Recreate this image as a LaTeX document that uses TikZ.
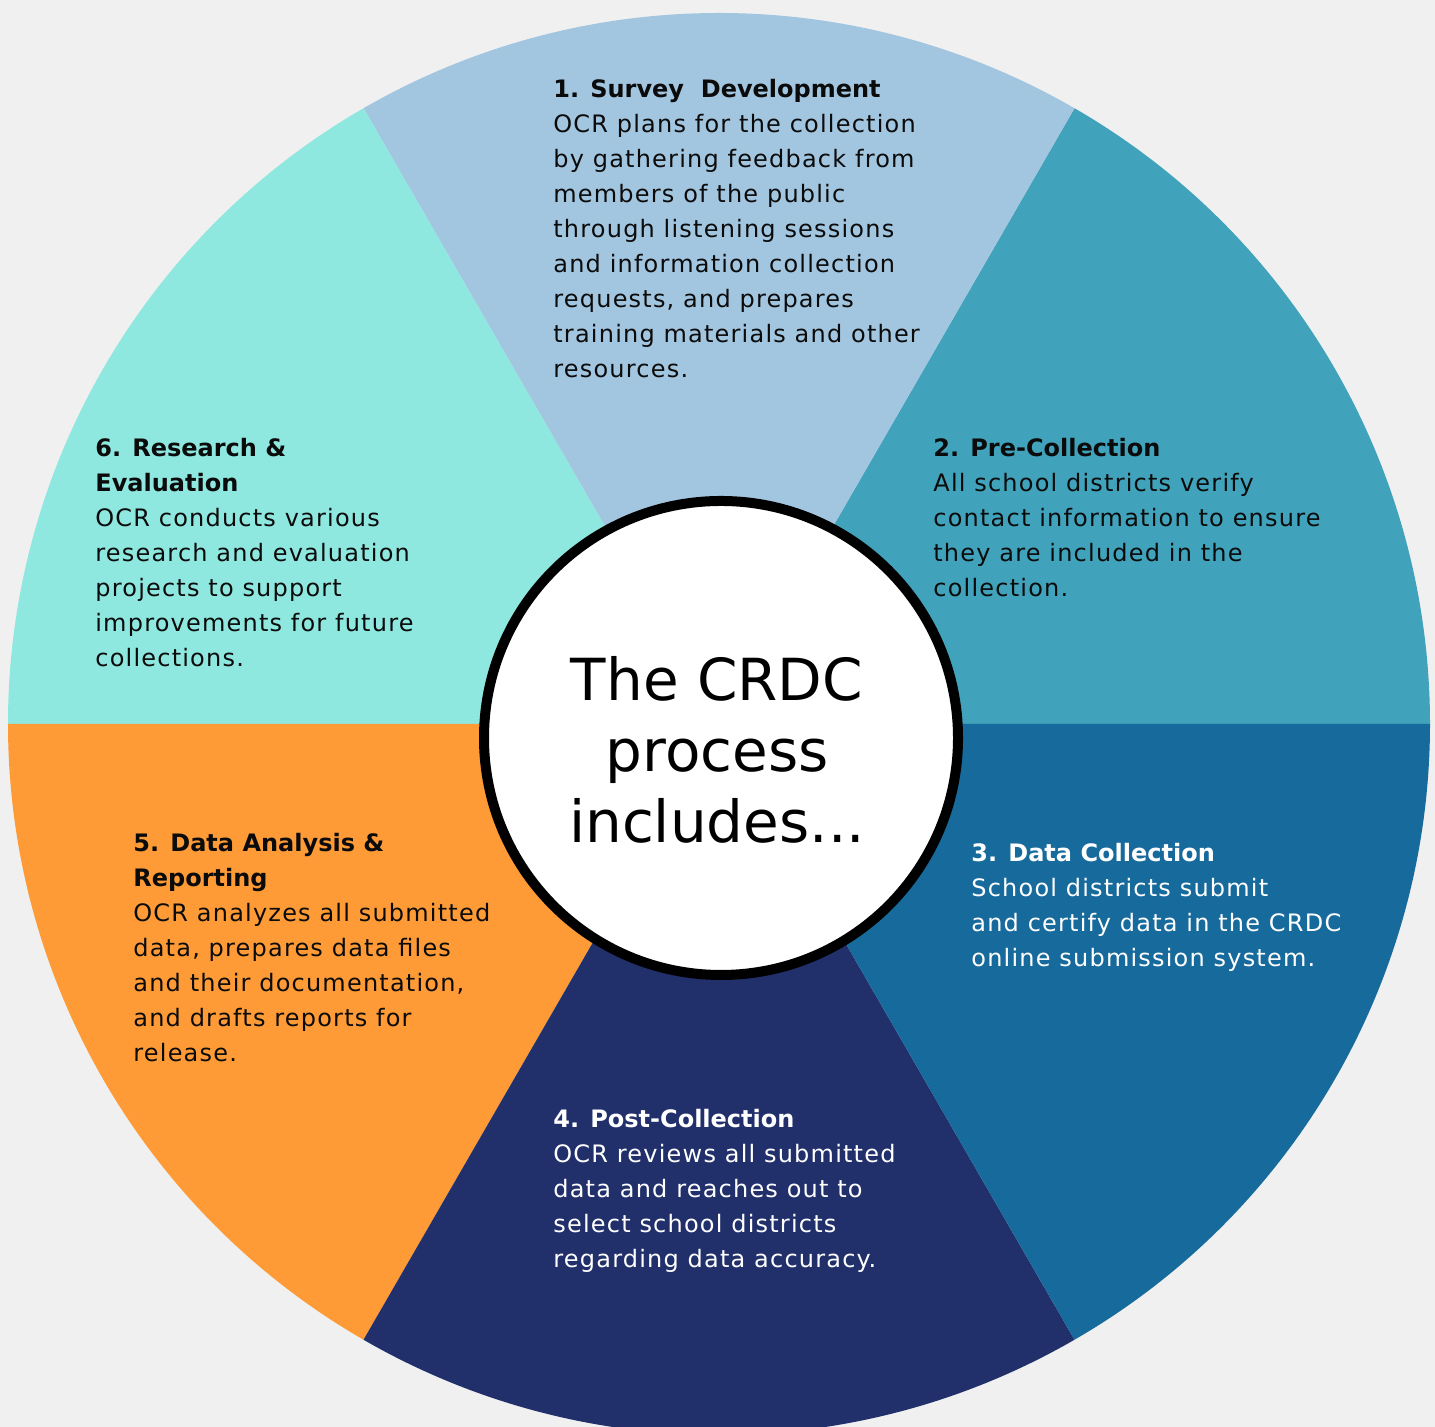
\documentclass[tikz,border=0pt]{standalone}
\usepackage{fontspec}
\setmainfont{DejaVu Sans}[LetterSpace=5,BoldFeatures={LetterSpace=0}]
\newfontfamily\hubfont{DejaVu Sans}
\definecolor{BackClr}{HTML}{F0F0F0}
\definecolor{SurveyClr}{HTML}{A3C6E0}
\definecolor{PreClr}{HTML}{40A3BB}
\definecolor{CollClr}{HTML}{176A9C}
\definecolor{PostClr}{HTML}{21306B}
\definecolor{AnalysisClr}{HTML}{FE9B37}
\definecolor{ResearchClr}{HTML}{8FE8DF}
\definecolor{InkClr}{HTML}{0B0B0B}

\tikzset{
  steptext/.style={anchor=base west,align=left,inner sep=0pt,text=InkClr,
    font=\fontsize{12}{17.5}\selectfont},
  steplight/.style={steptext,text=white},
  hubring/.style={draw=black,fill=white,line width=5pt},
  hubtext/.style={align=center,inner sep=0pt,
    font=\hubfont\fontsize{29}{35.5}\selectfont}
}

\begin{document}
\begin{tikzpicture}[x=0.5pt,y=0.5pt]
\fill[BackClr] (0,0) rectangle (1435,1427);
\useasboundingbox (0,0) rectangle (1435,1427);

\coordinate (wheel) at (719,703);
\coordinate (hubc) at (721,689);

% the six sectors of the wheel
\begin{scope}
\clip (0,0) rectangle (1435,1427);
\fill[PreClr] (wheel) -- ++(0:711) arc[start angle=0,end angle=60,radius=711] -- cycle;
\fill[SurveyClr] (wheel) -- ++(60:711) arc[start angle=60,end angle=120,radius=711] -- cycle;
\fill[ResearchClr] (wheel) -- ++(120:711) arc[start angle=120,end angle=180,radius=711] -- cycle;
\fill[AnalysisClr] (wheel) -- ++(180:711) arc[start angle=180,end angle=240,radius=711] -- cycle;
\fill[PostClr] (wheel) -- ++(240:711) arc[start angle=240,end angle=300,radius=711] -- cycle;
\fill[CollClr] (wheel) -- ++(300:711) arc[start angle=300,end angle=360,radius=711] -- cycle;
\end{scope}

% step texts (placed at the baseline of their last line)
\node[steptext] (survey) at (553,1049) {{\bfseries 1. Survey\ \ Development}\\
  OCR plans for the collection\\by gathering feedback from\\members of the public\\
  through listening sessions\\and information collection\\requests, and prepares\\
  training materials and other\\resources.};
\node[steptext] (precoll) at (933,830) {{\bfseries 2. Pre-Collection}\\
  All school districts verify\\contact information to ensure\\they are included in the\\
  collection.};
\node[steplight] (datacoll) at (971,460) {{\bfseries 3. Data Collection}\\
  School districts submit\\and certify data in the CRDC\\online submission system.};
\node[steplight] (postcoll) at (553,159) {{\bfseries 4. Post-Collection}\\
  OCR reviews all submitted\\data and reaches out to\\select school districts\\
  regarding data accuracy.};
\node[steptext] (analysis) at (133,365) {{\bfseries 5. Data Analysis \&}\\
  {\bfseries Reporting}\\OCR analyzes all submitted\\data, prepares data files\\
  and their documentation,\\and drafts reports for\\release.};
\node[steptext] (research) at (95,760) {{\bfseries 6. Research \&}\\
  {\bfseries Evaluation}\\OCR conducts various\\research and evaluation\\
  projects to support\\improvements for future\\collections.};

% centre
\draw[hubring] (hubc) circle[radius=237];
\node[hubtext] (hub) at (717,677) {The CRDC\\process\\includes...};
\end{tikzpicture}
\end{document}
